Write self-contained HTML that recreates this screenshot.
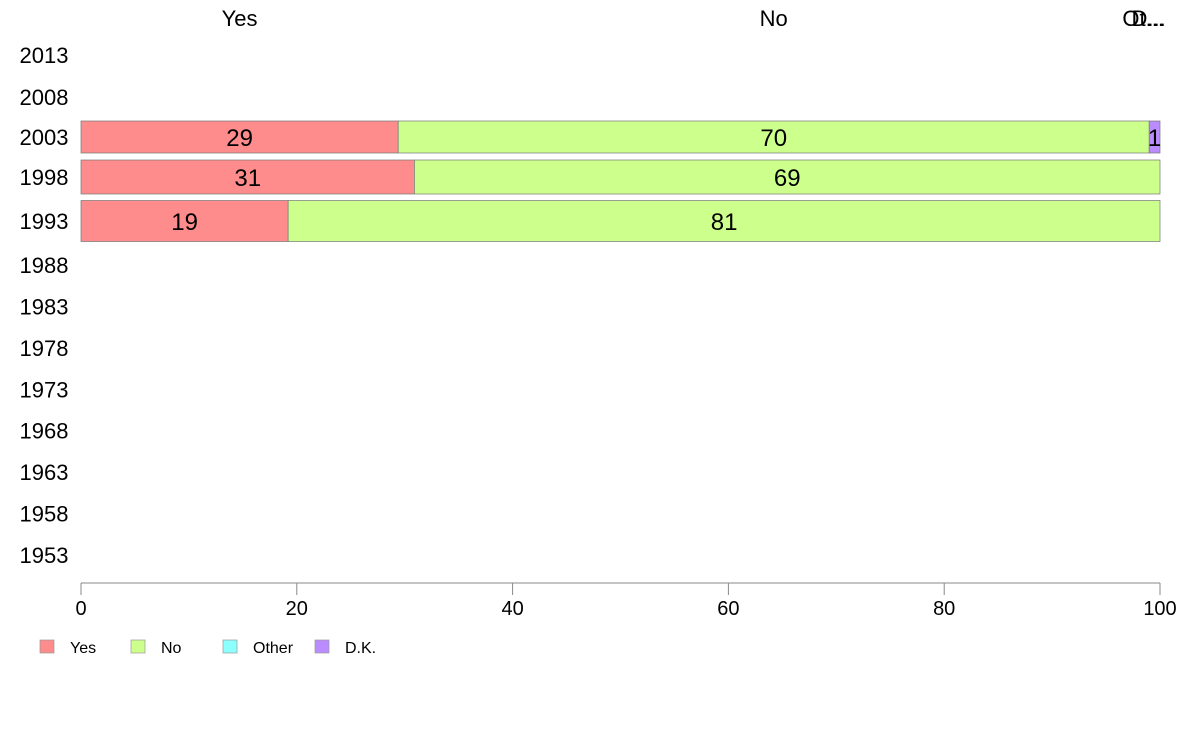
<!DOCTYPE html>
<html><head><meta charset="utf-8"><style>
body{margin:0;background:#fff;font-family:"Liberation Sans",sans-serif}
svg text{font-family:"Liberation Sans",sans-serif}
</style></head><body>
<svg id="c" width="1188" height="736"></svg>
<script>
const years=[2013,2008,2003,1998,1993,1988,1983,1978,1973,1968,1963,1958,1953];
const categories=["Yes","No","Other","D.K."];
const yesVals=[null,null,29.4,30.9,19.2,null,null,null,null,null,null,null,null];
const noVals=[null,null,69.6,69.1,80.8,null,null,null,null,null,null,null,null];
const otherVals=[null,null,0,0,0,null,null,null,null,null,null,null,null];
const dkVals=[null,null,1,0,0,null,null,null,null,null,null,null,null];
const yesLabels=[null,null,"29","31","19"];
const noLabels=[null,null,"70","69","81"];
const dkLabels=[null,null,"1",null,null];
const xTicks=[0,20,40,60,80,100];
const colors=["#ff8c8c","#ccff8c","#8cffff","#bb8cff"];
const NS="http://www.w3.org/2000/svg";
const svgEl=document.getElementById('c');
const xs=v=>81+v*(1160-81)/100;
const rowH=[42,42,38,42,46,42,41,42,41,41,42,41,42];
const barH=[0,0,32,34,41,0,0,0,0,0,0,0,0];
function mk(t,a,txt){const e=document.createElementNS(NS,t);for(const k in a)e.setAttribute(k,a[k]);if(txt!=null)e.textContent=txt;svgEl.appendChild(e);return e;}
let rowTop=34;const centers=[];
rowH.forEach(h=>{centers.push(rowTop+h/2);rowTop+=h;});
const series=[yesVals,noVals,otherVals,dkVals];
const labs=[yesLabels,noLabels,[],dkLabels];
years.forEach((yr,i)=>{
  const cy=centers[i];
  const t=mk('text',{x:44,y:cy+8,'text-anchor':'middle','font-size':22,fill:'#000'},String(yr));
  
  
  if(yesVals[i]==null)return;
  let acc=0;
  series.forEach((s,k)=>{
    const v=s[i];if(!v)return;
    const r=mk('rect',{x:xs(acc),y:cy-barH[i]/2,width:xs(acc+v)-xs(acc),height:barH[i],fill:colors[k],stroke:'#777','stroke-width':0.7});
    
    
    const l=labs[k][i];
    if(l){const tt=mk('text',{x:(xs(acc)+xs(acc+v))/2,y:cy+9,'text-anchor':'middle','font-size':24,fill:'#000'},l);
      
      }
    acc+=v;
  });
});
const ti=2;let acc2=0;
const topTxt=["Yes","No","Ot...","D..."];
series.forEach((s,k)=>{
  const v=s[ti];
  const cx=(xs(acc2)+xs(acc2+v))/2;
  const tt=mk('text',{x:k>=2?cx-6:cx,y:26,'text-anchor':'middle','font-size':22,fill:'#000'},topTxt[k]);
  
  
  acc2+=v;
});
const ax=mk('line',{x1:xs(0),x2:xs(100),y1:583,y2:583,stroke:'#888','stroke-width':1});


xTicks.forEach(v=>{
  const tk=mk('line',{x1:xs(v),x2:xs(v),y1:583,y2:595,stroke:'#888','stroke-width':1});
  
  
  const tl=mk('text',{x:xs(v),y:615,'text-anchor':'middle','font-size':20,fill:'#000'},String(v));
  
  
});
const lx=[40,131,223,315];
categories.forEach((c,k)=>{
  const r=mk('rect',{x:lx[k],y:640,width:14,height:13,fill:colors[k],stroke:'#999','stroke-width':0.7});
  
  
  const t=mk('text',{x:lx[k]+30,y:653,'font-size':16,fill:'#000'},c);
  
  
});
</script>
</body></html>
